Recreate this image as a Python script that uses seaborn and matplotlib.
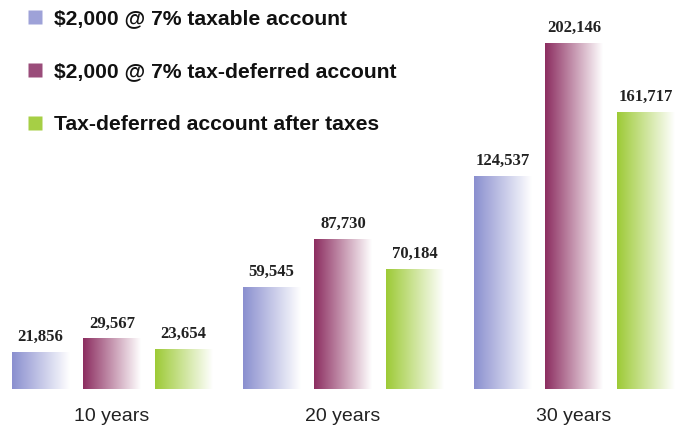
import numpy as np
import pandas as pd
import seaborn as sns
import matplotlib.pyplot as plt
from matplotlib.colors import LinearSegmentedColormap
from matplotlib.lines import Line2D

periods = ["10 years", "20 years", "30 years"]
taxable = [21856, 59545, 124537]
deferred = [29567, 87730, 202146]
after_tax = [23654, 70184, 161717]
series = ["$2,000 @ 7% taxable account",
          "$2,000 @ 7% tax-deferred account",
          "Tax-deferred account after taxes"]
colors = ["#8a8fcf", "#8c2d60", "#9dca36"]
legend_colors = ["#9ea2d8", "#9a4c7a", "#a6cf45"]

df = pd.DataFrame({
    "period": periods * 3,
    "series": np.repeat(series, len(periods)),
    "value": taxable + deferred + after_tax,
})

sns.set_style("white")
plt.rcParams['font.family'] = ['Liberation Sans', 'DejaVu Sans']

fig = plt.figure(figsize=(6.92, 4.30), dpi=100)
ax = fig.add_axes([0, 41 / 430, 1, 389 / 430])

sns.barplot(data=df, x="period", y="value", hue="series", hue_order=series,
            palette=colors, width=0.93, gap=0.2, errorbar=None,
            legend=False, ax=ax)

# gradient fill: colour on the left fading to white on the right
grad = np.linspace(0, 1, 256).reshape(1, -1)
for container, col in zip(ax.containers, colors):
    cmap = LinearSegmentedColormap.from_list("g", [col, "#ffffff"])
    for bar in container:
        x0, y0 = bar.get_x(), bar.get_y()
        w, h = bar.get_width(), bar.get_height()
        bar.set_facecolor("none")
        bar.set_edgecolor("none")
        im = ax.imshow(grad, cmap=cmap, extent=[x0, x0 + w, y0, y0 + h],
                       aspect="auto", interpolation="bicubic", zorder=2)
        im.set_clip_path(bar)

for container, vals in zip(ax.containers, [taxable, deferred, after_tax]):
    ax.bar_label(container, labels=[f"{v:,}" for v in vals], padding=5,
                 fontsize=12, fontweight="bold", color="#222222",
                 family=["Liberation Serif", "DejaVu Serif"])

ax.set_xlim(-112 / 231, (692 - 112) / 231)
ax.set_ylim(0, 389 * 584.2)
ax.set_xlabel("")
ax.set_ylabel("")
ax.set_yticks([])
ax.tick_params(axis="x", length=0, pad=13.5, labelsize=14, labelcolor="#222222")
sns.despine(ax=ax, left=True, bottom=True)

handles = [Line2D([], [], marker="s", linestyle="none", markersize=10.5,
                  markerfacecolor=c, markeredgecolor="none") for c in legend_colors]
labels = [s.replace("$", r"\$") for s in series]
fig.legend(handles, labels, loc="upper left", bbox_to_anchor=(28 / 692, 1 - 9 / 430),
           frameon=False, borderpad=0, borderaxespad=0, handlelength=0.65,
           handletextpad=0.6, labelspacing=1.62, prop={"weight": "bold", "size": 15.2},
           labelcolor="#111111")

fig.savefig("out.png", dpi=100)
